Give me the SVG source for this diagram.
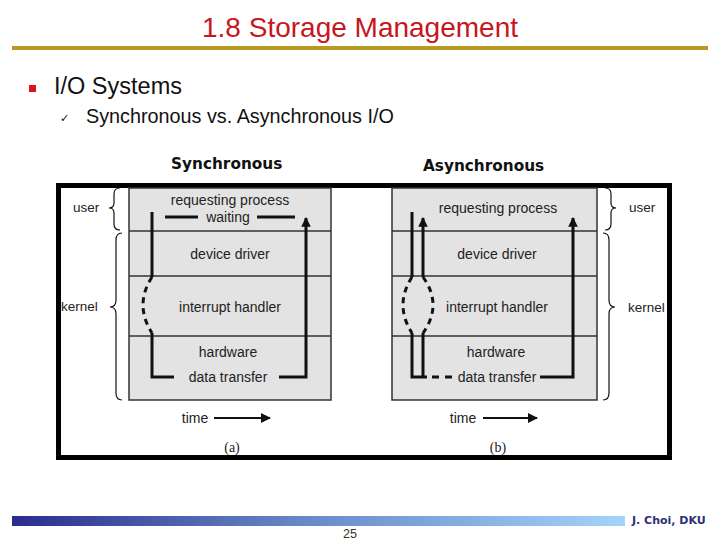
<svg xmlns="http://www.w3.org/2000/svg" width="720" height="540" viewBox="0 0 720 540">
<defs>
<linearGradient id="fbar" x1="0" y1="0" x2="1" y2="0">
<stop offset="0" stop-color="#2b2d8e"/>
<stop offset="0.5" stop-color="#6a8dc9"/>
<stop offset="1" stop-color="#a3d3fa"/>
</linearGradient>
<marker id="ah" viewBox="0 0 10 10" refX="9" refY="5" markerWidth="3.2" markerHeight="3.2" orient="auto" markerUnits="strokeWidth">
<path d="M0,0 L10,5 L0,10 z" fill="#111"/>
</marker>
<marker id="ahs" viewBox="0 0 10 10" refX="9" refY="5" markerWidth="5" markerHeight="5" orient="auto" markerUnits="strokeWidth">
<path d="M0,0 L10,5 L0,10 z" fill="#111"/>
</marker>
</defs>
<style>
.lbl{font-family:"Liberation Sans",Arial,sans-serif;font-size:14px;fill:#222;text-anchor:middle}
.side{font-family:"Liberation Sans",Arial,sans-serif;font-size:13.5px;fill:#222}
.panel{fill:#e3e3e3;stroke:#333;stroke-width:1.5}
.row{stroke:#333;stroke-width:1.5}
.flow{fill:none;stroke:#111;stroke-width:3}
.dash{fill:none;stroke:#111;stroke-width:3;stroke-dasharray:6 5}
.brace{fill:none;stroke:#111;stroke-width:1.2}
.hdr{font-family:"DejaVu Sans",Verdana,sans-serif;font-weight:bold;font-size:15.3px;fill:#111}
</style>
<rect width="720" height="540" fill="#fff"/>
<g id="title">
<text x="360" y="37" font-family="Liberation Sans, Arial, sans-serif" font-size="28" fill="#c8161e" text-anchor="middle">1.8 Storage Management</text>
<rect x="12" y="46" width="696" height="4" fill="#b89a22"/>
</g>
<g id="bullets">
<rect x="29" y="85" width="7" height="7" fill="#d8161c"/>
<text x="54" y="94" font-family="Liberation Sans, Arial, sans-serif" font-size="23.5" fill="#111">I/O Systems</text>
<text x="60" y="122" font-family="DejaVu Sans, sans-serif" font-size="11" fill="#111">✓</text>
<text x="86" y="123" font-family="Liberation Sans, Arial, sans-serif" font-size="19.8" fill="#111">Synchronous vs. Asynchronous I/O</text>
</g>
<g id="headers">
<text class="hdr" x="171" y="169">Synchronous</text>
<text class="hdr" x="423" y="171">Asynchronous</text>
</g>
<g id="frame">
<rect x="58.5" y="185.5" width="611" height="272" fill="#fff" stroke="#000" stroke-width="5"/>
</g>
<g id="panel-a">
<rect class="panel" x="129" y="188" width="202" height="212"/>
<line class="row" x1="129" y1="231" x2="331" y2="231"/>
<line class="row" x1="129" y1="276" x2="331" y2="276"/>
<line class="row" x1="129" y1="336" x2="331" y2="336"/>
<text class="lbl" x="230" y="205">requesting process</text>
<text class="lbl" x="228" y="222">waiting</text>
<text class="lbl" x="230" y="259">device driver</text>
<text class="lbl" x="230" y="312">interrupt handler</text>
<text class="lbl" x="228" y="357">hardware</text>
<text class="lbl" x="228" y="382">data transfer</text>
<text class="lbl" x="195" y="423">time</text>
<text x="232" y="452" font-family="Liberation Serif, Times New Roman, serif" font-size="14" fill="#222" text-anchor="middle">(a)</text>
<path class="brace" d="M120,188 Q114,188 114,194 L114,203 Q114,208 109,208 Q114,208 114,213 L114,224 Q114,230 120,230"/>
<path class="brace" d="M122,233 Q116,233 116,240 L116,300 Q116,307 110,307 Q116,307 116,314 L116,393 Q116,400 122,400"/>
<text class="side" x="73" y="212">user</text>
<text class="side" x="61" y="311">kernel</text>
</g>
<g id="panel-b">
<rect class="panel" x="392" y="188" width="205" height="212"/>
<line class="row" x1="392" y1="231" x2="597" y2="231"/>
<line class="row" x1="392" y1="276" x2="597" y2="276"/>
<line class="row" x1="392" y1="336" x2="597" y2="336"/>
<text class="lbl" x="498" y="213">requesting process</text>
<text class="lbl" x="497" y="259">device driver</text>
<text class="lbl" x="497" y="312">interrupt handler</text>
<text class="lbl" x="496" y="357">hardware</text>
<text class="lbl" x="497" y="382">data transfer</text>
<text class="lbl" x="463" y="423">time</text>
<text x="498" y="452" font-family="Liberation Serif, Times New Roman, serif" font-size="14" fill="#222" text-anchor="middle">(b)</text>
<path class="brace" d="M605,188 Q611,188 611,194 L611,203 Q611,208 616,208 Q611,208 611,213 L611,224 Q611,230 605,230"/>
<path class="brace" d="M603,233 Q609,233 609,240 L609,300 Q609,307 615,307 Q609,307 609,314 L609,393 Q609,400 603,400"/>
<text class="side" x="629" y="212">user</text>
<text class="side" x="628" y="312">kernel</text>
</g>
<g id="connectors">
<path class="flow" d="M152,212 L152,277"/>
<path class="dash" d="M152,277 Q134,305 152,333"/>
<path class="flow" d="M152,333 L152,377 L174,377"/>
<path class="flow" d="M279,377 L306,377 L306,218" marker-end="url(#ah)"/>
<line class="flow" x1="165" y1="217" x2="198" y2="217"/>
<line class="flow" x1="257" y1="217" x2="295" y2="217"/>
<line x1="214" y1="418" x2="270" y2="418" stroke="#111" stroke-width="2" marker-end="url(#ahs)"/>
<path class="flow" d="M412,212 L412,277"/>
<path class="flow" d="M423,277 L423,218" marker-end="url(#ah)"/>
<path class="dash" d="M412,277 Q394,305 412,333"/>
<path class="dash" d="M423,277 Q443,305 423,333"/>
<path class="flow" d="M412,333 L412,377 L427,377 M423,333 L423,377"/>
<path class="flow" d="M432,377 L439,377 M445,377 L452,377"/>
<path class="flow" d="M540,377 L573,377 L573,218" marker-end="url(#ah)"/>
<line x1="483" y1="418" x2="537" y2="418" stroke="#111" stroke-width="2" marker-end="url(#ahs)"/>
</g>
<g id="footer">
<rect x="12" y="516" width="613" height="10" fill="url(#fbar)"/>
<text x="632" y="524" font-family="DejaVu Sans, Verdana, sans-serif" font-weight="bold" font-size="11" fill="#2e2e78">J. Choi, DKU</text>
<text x="350" y="538" font-family="Liberation Sans, Arial, sans-serif" font-size="12.5" fill="#333" text-anchor="middle">25</text>
</g>
</svg>
